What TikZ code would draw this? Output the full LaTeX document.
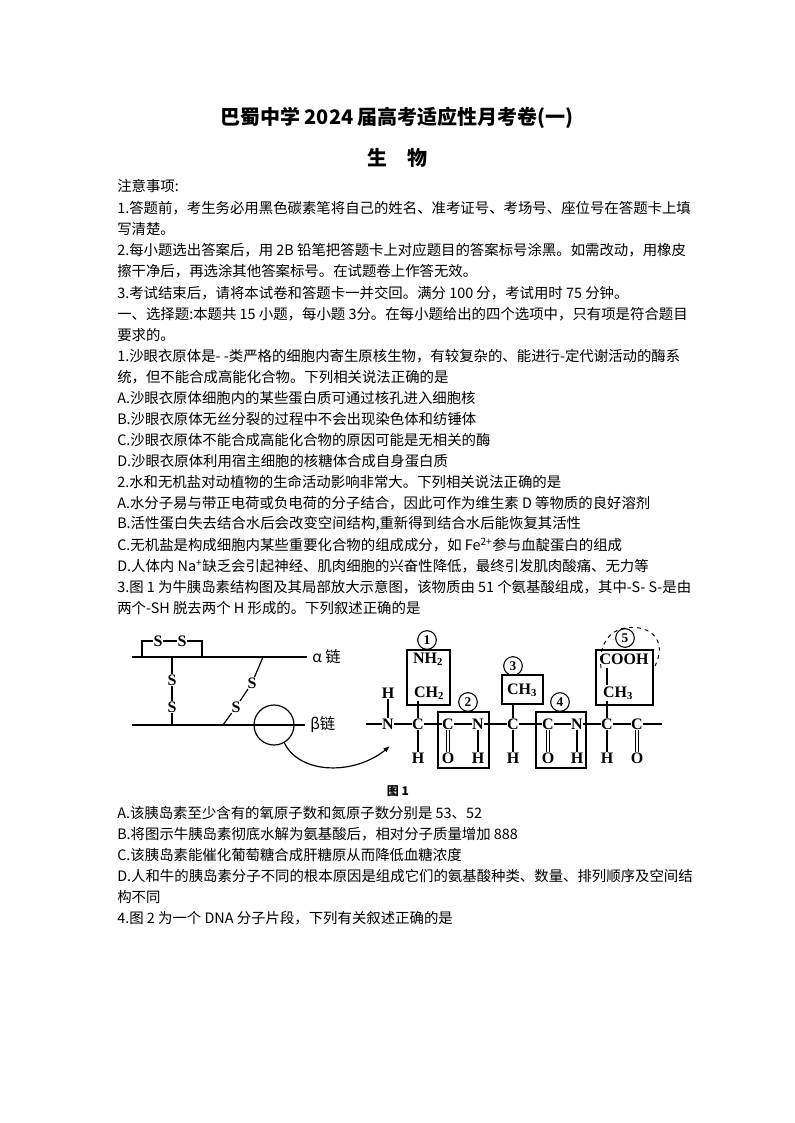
\documentclass[tikz,border=0pt]{standalone}
\usepackage{fontspec}
\newfontfamily\cjk{Noto Sans CJK SC}
\newfontfamily\fig{Liberation Serif}
\usetikzlibrary{arrows.meta}
\begin{document}
\begin{tikzpicture}[x=0.75pt,y=-0.75pt,
  tl/.style={anchor=west,inner sep=0pt,font=\cjk\fontsize{10.8}{13}\selectfont},
  atm/.style={inner sep=0.3pt,font=\fig\bfseries\fontsize{12}{13}\selectfont},
  bx/.style={draw,line width=0.9pt},
  num/.style={circle,draw,line width=0.8pt,inner sep=0.6pt,minimum size=14pt,font=\fig\bfseries\fontsize{10}{11}\selectfont},
  bond/.style={line width=0.9pt}]
\useasboundingbox (0,0) rectangle (794,1123);
\node[font=\cjk\bfseries\fontsize{15}{18}\selectfont] (title) at (397,118) {巴蜀中学 2024 届高考适应性月考卷(一)};
\node[font=\cjk\bfseries\fontsize{15}{18}\selectfont] (sub) at (397,158) {生\quad 物};
\node[tl] (l1) at (117,186) {注意事项:};
\node[tl] (l2) at (117,208) {1.答题前，考生务必用黑色碳素笔将自己的姓名、准考证号、考场号、座位号在答题卡上填};
\node[tl] (l3) at (117,229) {写清楚。};
\node[tl] (l4) at (117,250) {2.每小题选出答案后，用 2B 铅笔把答题卡上对应题目的答案标号涂黑。如需改动，用橡皮};
\node[tl] (l5) at (117,271) {擦干净后，再选涂其他答案标号。在试题卷上作答无效。};
\node[tl] (l6) at (117,293) {3.考试结束后，请将本试卷和答题卡一并交回。满分 100 分，考试用时 75 分钟。};
\node[tl] (l7) at (117,314) {一、选择题:本题共 15 小题，每小题 3分。在每小题给出的四个选项中，只有项是符合题目};
\node[tl] (l8) at (117,335) {要求的。};
\node[tl] (l9) at (117,356) {1.沙眼衣原体是- -类严格的细胞内寄生原核生物，有较复杂的、能进行-定代谢活动的酶系};
\node[tl] (l10) at (117,377) {统，但不能合成高能化合物。下列相关说法正确的是};
\node[tl] (l11) at (117,398) {A.沙眼衣原体细胞内的某些蛋白质可通过核孔进入细胞核};
\node[tl] (l12) at (117,419) {B.沙眼衣原体无丝分裂的过程中不会出现染色体和纺锤体};
\node[tl] (l13) at (117,440) {C.沙眼衣原体不能合成高能化合物的原因可能是无相关的酶};
\node[tl] (l14) at (117,461) {D.沙眼衣原体利用宿主细胞的核糖体合成自身蛋白质};
\node[tl] (l15) at (117,482) {2.水和无机盐对动植物的生命活动影响非常大。下列相关说法正确的是};
\node[tl] (l16) at (117,503) {A.水分子易与带正电荷或负电荷的分子结合，因此可作为维生素 D 等物质的良好溶剂};
\node[tl] (l17) at (117,524) {B.活性蛋白失去结合水后会改变空间结构,重新得到结合水后能恢复其活性};
\node[tl] (l18) at (117,545) {C.无机盐是构成细胞内某些重要化合物的组成成分，如 Fe\textsuperscript{2+}参与血靛蛋白的组成};
\node[tl] (l19) at (117,566) {D.人体内 Na\textsuperscript{+}缺乏会引起神经、肌肉细胞的兴奋性降低，最终引发肌肉酸痛、无力等};
\node[tl] (l20) at (117,587) {3.图 1 为牛胰岛素结构图及其局部放大示意图，该物质由 51 个氨基酸组成，其中-S- S-是由};
\node[tl] (l21) at (117,608) {两个-SH 脱去两个 H 形成的。下列叙述正确的是};
\node[tl] (l22) at (117,813) {A.该胰岛素至少含有的氧原子数和氮原子数分别是 53、52};
\node[tl] (l23) at (117,834) {B.将图示牛胰岛素彻底水解为氨基酸后，相对分子质量增加 888};
\node[tl] (l24) at (117,855) {C.该胰岛素能催化葡萄糖合成肝糖原从而降低血糖浓度};
\node[tl] (l25) at (117,876) {D.人和牛的胰岛素分子不同的根本原因是组成它们的氨基酸种类、数量、排列顺序及空间结};
\node[tl] (l26) at (117,897) {构不同};
\node[tl] (l27) at (117,918) {4.图 2 为一个 DNA 分子片段，下列有关叙述正确的是};
% ---- figure left
\coordinate (a0) at (132,657); \coordinate (a1) at (307,657);
\coordinate (b0) at (132,725); \coordinate (b1) at (305,725);
\draw[bond] (a0) -- (a1); \draw[bond] (b0) -- (b1);
\node[atm] (s1) at (158,641) {S}; \node[atm] (s2) at (182,641) {S};
\draw[bond] (142,657) -- (142,641) -- (s1) -- (s2) -- (202,641) -- (202,657);
\node[atm] (s3) at (172,680) {S}; \node[atm] (s4) at (172,707) {S};
\draw[bond] (172,657) -- (s3) -- (s4) -- (172,725);
\node[atm] (s5) at (252,683) {S}; \node[atm] (s6) at (236,707) {S};
\draw[bond] (263,657) -- (s5) -- (s6) -- (223,725);
\node[font=\cjk\fontsize{11.5}{13}\selectfont,anchor=west,inner sep=0pt] (al) at (312,657) {α 链};
\node[font=\cjk\fontsize{11.5}{13}\selectfont,anchor=west,inner sep=0pt] (be) at (310,725) {β链};
\node[circle,draw,line width=0.9pt,minimum size=30pt,inner sep=0pt] (cir) at (274,725) {};
\coordinate (tip) at (390,746);
\draw[bond,-{Latex[length=5pt]}] (cir.300) .. controls (300,775) and (355,775) .. (tip);
\node[font=\cjk\bfseries\fontsize{9}{11}\selectfont] (f1) at (398,791) {图 1};
% ---- figure right
\node[atm] (N1) at (388,724) {N};
\node[atm] (H0) at (388,693) {H};
\node[atm] (C1) at (418,724) {C};
\node[atm] (C2) at (448,724) {C};
\node[atm] (N2) at (478,724) {N};
\node[atm] (C3) at (513,724) {C};
\node[atm] (C4) at (548,724) {C};
\node[atm] (N3) at (577,724) {N};
\node[atm] (C5) at (607,724) {C};
\node[atm] (C6) at (637,724) {C};
\coordinate (st) at (366,724); \coordinate (en) at (662,724);
\node[atm] (h1) at (418,758) {H}; \node[atm] (o1) at (448,758) {O};
\node[atm] (h2) at (478,758) {H}; \node[atm] (h3) at (513,758) {H};
\node[atm] (o2) at (548,758) {O}; \node[atm] (h4) at (577,758) {H};
\node[atm] (h5) at (607,758) {H}; \node[atm] (o3) at (637,758) {O};
\node[atm] (nh) at (428,659) {NH\textsubscript{2}};
\node[atm] (ch1) at (429,693) {CH\textsubscript{2}};
\node[atm] (ch3) at (522,690) {CH\textsubscript{3}};
\node[atm] (co) at (624,659) {COOH};
\node[atm] (ch5) at (618,693) {CH\textsubscript{3}};
\draw[bond] (st) -- (N1) -- (C1) -- (C2) -- (N2) -- (C3) -- (C4) -- (N3) -- (C5) -- (C6) -- (en);
\draw[bond] (N1) -- (H0);
\draw[bond] (C1) -- (h1); \draw[bond] (N2) -- (h2); \draw[bond] (C3) -- (h3);
\draw[bond] (N3) -- (h4); \draw[bond] (C5) -- (h5);
\foreach \c/\o in {C2/o1,C4/o2,C6/o3}{
  \draw[bond] ([xshift=-1.4pt]\c.south) -- ([xshift=-1.4pt]\o.north);
  \draw[bond] ([xshift=1.4pt]\c.south) -- ([xshift=1.4pt]\o.north);}
\draw[bond] (C1) -- (418,701);
\draw[bond] (C3) -- (513,704);
\draw[bond] (C5) -- (607,701);
\draw[bond] (607,685) -- (607,668);
\draw[bx] (407,650) rectangle (450,705);
\draw[bx] (438,712) rectangle (489,768);
\draw[bx] (502,675) rectangle (543,704);
\draw[bx] (536,712) rectangle (586,768);
\draw[bx] (596,650) rectangle (653,705);
\node[num] (n1) at (427,640) {1};
\node[num] (n2) at (468,702) {2};
\node[num] (n3) at (513,666) {3};
\node[num] (n4) at (560,702) {4};
\node[num] (n5) at (625,638) {5};
\draw[dashed,line width=0.7pt] (601,668) .. controls (598,645) and (610,630) .. (625,628) .. controls (650,624) and (668,640) .. (655,666);
\end{tikzpicture}
\end{document}
